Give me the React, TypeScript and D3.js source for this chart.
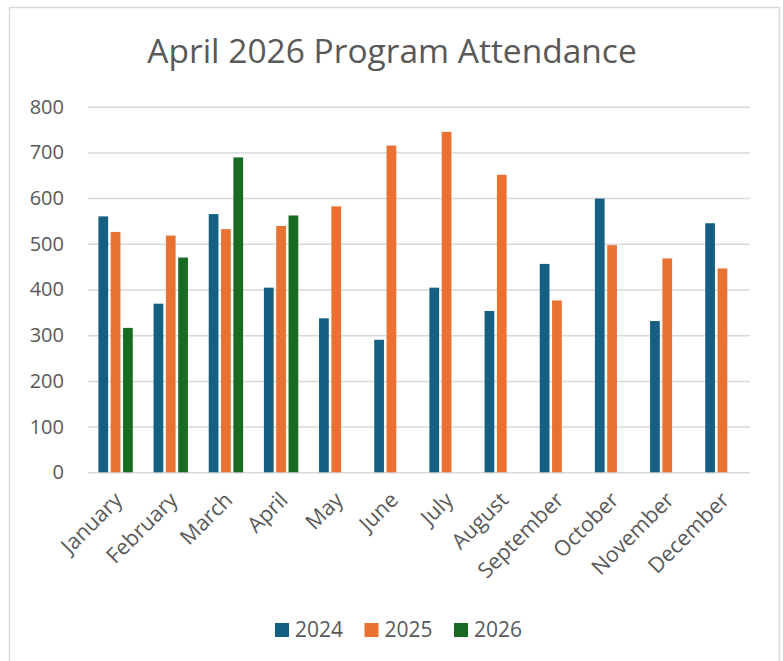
import * as d3 from "d3";
import { useEffect, useRef } from "react";

const months = [
  "January", "February", "March", "April", "May", "June",
  "July", "August", "September", "October", "November", "December",
];
const seriesNames = ["2024", "2025", "2026"];
const values2024 = [560, 369, 565, 404, 337, 290, 404, 353, 456, 599, 331, 545];
const values2025 = [526, 518, 532, 539, 582, 715, 745, 651, 376, 497, 468, 446];
const values2026 = [316, 470, 689, 562, null, null, null, null, null, null, null, null];
const yTicks = [0, 100, 200, 300, 400, 500, 600, 700, 800];
const colors = ["#156082", "#E97132", "#196B24"];

const width = 783;
const height = 661;
const font = "'Open Sans', 'DejaVu Sans', sans-serif";
const textColor = "#595959";

export default function App() {
  const ref = useRef<SVGSVGElement>(null);

  useEffect(() => {
    const svg = d3.select(ref.current);
    svg.selectAll("*").remove();

    const margin = { top: 106.7, right: 33, bottom: 188.7, left: 88 };
    const plotW = width - margin.left - margin.right;
    const plotH = height - margin.top - margin.bottom;

    // chart border
    svg
      .append("rect")
      .attr("x", 9.5)
      .attr("y", 7.5)
      .attr("width", 770)
      .attr("height", 670)
      .attr("fill", "white")
      .attr("stroke", "#d9d9d9")
      .attr("stroke-width", 1.5);

    svg
      .append("text")
      .attr("x", 392)
      .attr("y", 63)
      .attr("text-anchor", "middle")
      .attr("font-family", font)
      .attr("font-size", 33.5)
      .attr("fill", textColor)
      .text("April 2026 Program Attendance");

    const g = svg
      .append("g")
      .attr("transform", `translate(${margin.left},${margin.top})`);

    const x0 = d3
      .scaleBand()
      .domain(months)
      .range([0, plotW])
      .paddingInner(0.33)
      .paddingOuter(0.165);

    const x1 = d3
      .scaleBand()
      .domain(seriesNames)
      .range([0, x0.bandwidth()])
      .paddingInner(0.21)
      .paddingOuter(0.105);

    const y = d3.scaleLinear().domain([0, 800]).range([plotH, 0]);

    // gridlines
    g.append("g")
      .call(d3.axisLeft(y).tickValues(yTicks).tickSize(-plotW).tickFormat(() => ""))
      .call((a) => a.select(".domain").remove())
      .selectAll("line")
      .attr("stroke", "#d9d9d9")
      .attr("stroke-width", 1.5);

    // y labels
    g.selectAll(".ylab")
      .data(yTicks)
      .join("text")
      .attr("class", "ylab")
      .attr("x", -24)
      .attr("y", (d) => y(d))
      .attr("dy", "0.35em")
      .attr("text-anchor", "end")
      .attr("font-family", font)
      .attr("font-size", 20)
      .attr("fill", textColor)
      .text((d) => d);

    const allSeries = [values2024, values2025, values2026];
    const bars = months.flatMap((m, i) =>
      seriesNames.map((s, j) => ({ month: m, series: s, idx: j, value: allSeries[j][i] }))
    ).filter((d) => d.value != null);

    g.selectAll(".bar")
      .data(bars)
      .join("rect")
      .attr("class", "bar")
      .attr("x", (d) => x0(d.month)! + x1(d.series)!)
      .attr("y", (d) => y(d.value as number))
      .attr("width", x1.bandwidth())
      .attr("height", (d) => plotH - y(d.value as number))
      .attr("fill", (d) => colors[d.idx]);

    // x labels
    g.selectAll(".xlab")
      .data(months)
      .join("text")
      .attr("class", "xlab")
      .attr(
        "transform",
        (d) => `translate(${x0(d)! + x0.bandwidth() / 2 + 8},${plotH + 29}) rotate(-45)`
      )
      .attr("text-anchor", "end")
      .attr("font-family", font)
      .attr("font-size", 21.5)
      .attr("fill", textColor)
      .text((d) => d);

    // legend
    const legend = svg
      .append("g")
      .selectAll("g")
      .data(seriesNames)
      .join("g")
      .attr("transform", (_, i) => `translate(${275 + i * 89.5},623)`);
    legend
      .append("rect")
      .attr("width", 14)
      .attr("height", 14)
      .attr("fill", (_, i) => colors[i]);
    legend
      .append("text")
      .attr("x", 20)
      .attr("y", 7)
      .attr("dy", "0.35em")
      .attr("font-family", font)
      .attr("font-size", 21)
      .attr("fill", textColor)
      .text((d) => d);
  }, []);

  return (
    <svg
      ref={ref}
      width={width}
      height={height}
      style={{ position: "absolute", left: 0, top: 0, background: "white" }}
    />
  );
}
